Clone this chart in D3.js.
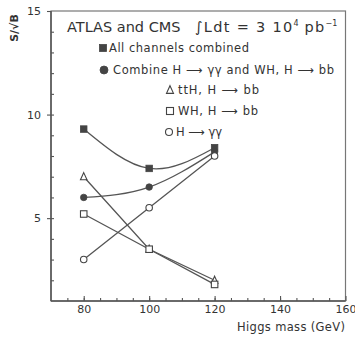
<!DOCTYPE html>
<html>
<head>
<meta charset="utf-8">
<script src="https://cdn.jsdelivr.net/npm/d3@7"></script>
<style>
  html, body { margin: 0; padding: 0; background: #fff; }
  svg { display: block; }
  text { font-family: "DejaVu Sans", sans-serif; fill: #333; }
</style>
</head>
<body>
<script>
// Higgs masses (GeV) at which the significance was evaluated
const masses = [80, 100, 120];

// S/sqrt(B) per channel
const allCombined  = [9.3, 7.4, 8.4];
const ggAndWhbb    = [6.0, 6.5, 8.2];
const tthBb        = [7.0, 3.5, 2.0];
const whBb         = [5.2, 3.5, 1.8];
const hGammaGamma  = [3.0, 5.5, 8.0];

// Axis ticks
const xTicks = [80, 100, 120, 140, 160];
const yTicks = [5, 10, 15];

const W = 355, H = 338;
const svg = d3.select("body").append("svg").attr("width", W).attr("height", H);

const x = d3.scaleLinear().domain([70, 160]).range([51, 345.5]);
const y = d3.scaleLinear().domain([1, 15]).range([301, 11]);

const ink = "#555";

// Frame
svg.append("rect")
  .attr("x", x(70)).attr("y", y(15))
  .attr("width", x(160) - x(70)).attr("height", y(1) - y(15))
  .attr("fill", "none").attr("stroke", "#777").attr("stroke-width", 1.2);
svg.append("line").attr("x1", x(70)).attr("x2", x(70)).attr("y1", y(15)).attr("y2", y(1))
  .attr("stroke", ink).attr("stroke-width", 1.5);
svg.append("line").attr("x1", x(70)).attr("x2", x(160)).attr("y1", y(1)).attr("y2", y(1))
  .attr("stroke", ink).attr("stroke-width", 1.5);

// X axis: minor ticks every 5 GeV, major every 20 GeV, all pointing inward
const xAxisMinor = d3.axisBottom(x).tickValues(d3.range(75, 160, 5)).tickSize(-3).tickFormat("");
const gxm = svg.append("g").attr("transform", `translate(0,${y(1)})`).call(xAxisMinor);
const xAxis = d3.axisBottom(x).tickValues(xTicks).tickSize(-5).tickPadding(4).tickFormat(d3.format("d"));
const gx = svg.append("g").attr("transform", `translate(0,${y(1)})`).call(xAxis);

// Y axis: minor ticks inward each unit, major ticks outward
const yAxisMinor = d3.axisLeft(y).tickValues(d3.range(2, 15, 1)).tickSize(-3).tickFormat("");
const gym = svg.append("g").attr("transform", `translate(${x(70)},0)`).call(yAxisMinor);
const yAxis = d3.axisLeft(y).tickValues(yTicks).tickSize(4).tickPadding(6).tickFormat(d3.format("d"));
const gy = svg.append("g").attr("transform", `translate(${x(70)},0)`).call(yAxis);

[gxm, gx, gym, gy].forEach(g => {
  g.select(".domain").remove();
  g.selectAll(".tick line").attr("stroke", ink).attr("stroke-width", 1.1);
  g.selectAll(".tick text").attr("font-size", 11).attr("fill", "#333")
    .attr("font-family", "DejaVu Sans, sans-serif");
});

// Axis titles
svg.append("text")
  .attr("transform", `translate(18,28) rotate(-90)`)
  .attr("text-anchor", "middle").attr("font-size", 11).attr("font-weight", "bold")
  .text("S/√B");
svg.append("text")
  .attr("x", 345).attr("y", 331).attr("text-anchor", "end").attr("font-size", 11.5)
  .attr("textLength", 108).attr("lengthAdjust", "spacing")
  .text("Higgs mass (GeV)");

// Curves
const pts = vals => masses.map((m, i) => [m, vals[i]]);
const smooth = d3.line().x(d => x(d[0])).y(d => y(d[1])).curve(d3.curveNatural);
const straight = d3.line().x(d => x(d[0])).y(d => y(d[1]));

const series = [
  { vals: allCombined, line: smooth,   marker: "square",   filled: true },
  { vals: ggAndWhbb,   line: smooth,   marker: "circle",   filled: true },
  { vals: tthBb,       line: straight, marker: "triangle", filled: false },
  { vals: whBb,        line: straight, marker: "square",   filled: false },
  { vals: hGammaGamma, line: straight, marker: "circle",   filled: false }
];

series.forEach(s => {
  svg.append("path").attr("d", s.line(pts(s.vals)))
    .attr("fill", "none").attr("stroke", ink).attr("stroke-width", 1.3);
});

function drawMarker(g, type, filled, cx, cy, size) {
  const fill = filled ? "#444" : "#fff";
  const sw = filled ? 0.8 : 1.1;
  if (type === "square") {
    g.append("rect").attr("x", cx - size / 2).attr("y", cy - size / 2)
      .attr("width", size).attr("height", size)
      .attr("fill", fill).attr("stroke", "#444").attr("stroke-width", sw);
  } else if (type === "circle") {
    g.append("circle").attr("cx", cx).attr("cy", cy).attr("r", size / 2)
      .attr("fill", fill).attr("stroke", "#444").attr("stroke-width", sw);
  } else {
    const h = size * 0.95;
    g.append("path")
      .attr("d", `M${cx},${cy - h / 2 - 1}L${cx + size / 2},${cy + h / 2}L${cx - size / 2},${cy + h / 2}Z`)
      .attr("fill", fill).attr("stroke", "#444").attr("stroke-width", sw);
  }
}

const gm = svg.append("g");
series.forEach(s => {
  s.vals.forEach((v, i) => drawMarker(gm, s.marker, s.filled, x(masses[i]), y(v), 6.5));
});

// Title line
const title = svg.append("text").attr("x", 67).attr("y", 31.5).attr("font-size", 14.5);
title.append("tspan").text("ATLAS and CMS");
title.append("tspan").attr("x", 195).attr("letter-spacing", 1.3).text("∫Ldt = 3 10");
title.append("tspan").attr("dy", -6).attr("font-size", 8).text("4");
title.append("tspan").attr("dy", 6).attr("letter-spacing", 1.3).text(" pb");
title.append("tspan").attr("dy", -6).attr("font-size", 8).text("−1");

// Legend
const legend = [
  { label: "All channels combined",          marker: "square",   filled: true,  mx: 103, ty: 52,  tx: 109, w: 140 },
  { label: "Combine H ⟶ γγ and WH, H ⟶ bb",  marker: "circle",   filled: true,  mx: 104, ty: 74,  tx: 113, w: 221 },
  { label: "ttH, H ⟶ bb",                    marker: "triangle", filled: false, mx: 170, ty: 94,  tx: 178, w: 81 },
  { label: "WH, H ⟶ bb",                     marker: "square",   filled: false, mx: 170, ty: 115, tx: 178, w: 80 },
  { label: "H ⟶ γγ",                         marker: "circle",   filled: false, mx: 169, ty: 136, tx: 176, w: null }
];
legend.forEach(l => {
  drawMarker(svg, l.marker, l.filled, l.mx, l.ty - 4, l.marker === "circle" && l.filled ? 8 : 7);
  const t = svg.append("text").attr("x", l.tx).attr("y", l.ty).attr("font-size", 11.5).text(l.label);
  if (l.w) t.attr("textLength", l.w).attr("lengthAdjust", "spacing");
});
</script>
</body>
</html>
